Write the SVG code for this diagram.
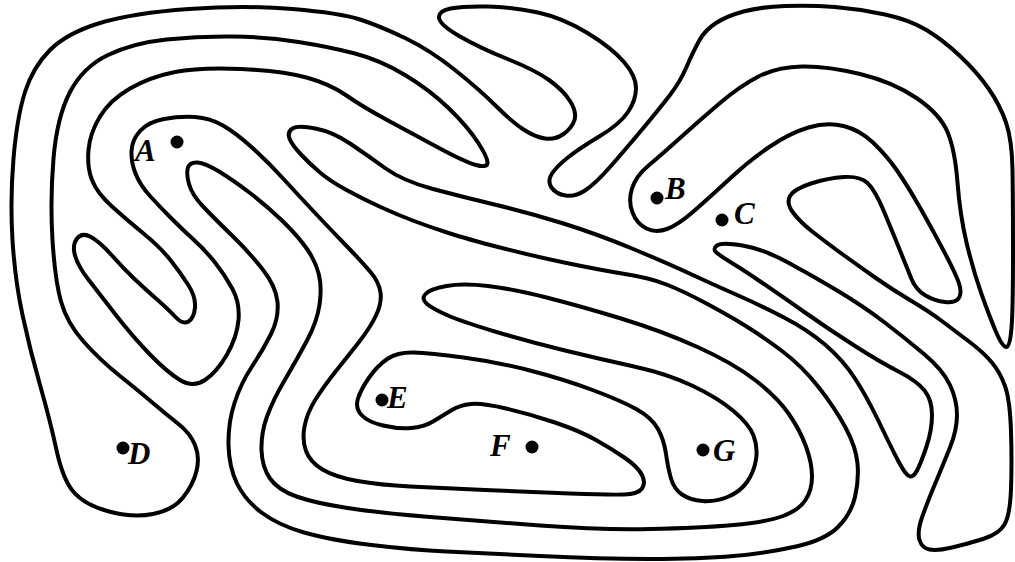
<svg xmlns="http://www.w3.org/2000/svg" width="1015" height="562" viewBox="0 0 1015 562">
<style>
.curve{fill:none;stroke:#000;stroke-width:4;stroke-linejoin:round;stroke-linecap:round}
.dot{fill:#000}
.lbl{font-family:"Liberation Serif","Times New Roman",serif;font-weight:bold;font-style:italic;font-size:31px;fill:#000}
</style>
<rect width="1015" height="562" fill="#fff"/>
<g id="connectors">
<path class="curve" d="M135.5,173.5 Q131,162 131.5,151 Q132,140 140,131 Q148,122 164,119 Q180,116 195,117 Q210,118 223,125.5 Q236,133 252,147.5 Q268,162 284,179.5 Q300,197 316.5,214.5 Q333,232 347.5,247 Q362,262 370.5,272 Q379,282 380.5,292.5 Q382,303 376,315.5 Q370,328 359,342 Q348,356 336,371 Q324,386 315.5,399.5 Q307,413 304.5,426.5 Q302,440 306,451 Q310,462 322.5,469.5 Q335,477 357.5,481 Q380,485 410,486.5 Q440,488 485,490 Q530,492 570,493.5 Q610,495 624,494.5 Q638,494 642,488.5 Q646,483 642,475 Q638,467 625,458 Q612,449 596,440 Q580,431 555,422.5 Q530,414 506,408.5 Q482,403 471,404 Q460,405 451,410.5 Q442,416 433,421.5 Q424,427 411,428 Q398,429 383,425.5 Q368,422 361.5,415 Q355,408 358,398.5 Q361,389 369.5,377 Q378,365 388,358.5 Q398,352 414,352.5 Q430,353 463.5,357.5 Q497,362 530,370.5 Q563,379 592.5,390 Q622,401 637,409.5 Q652,418 658,429 Q664,440 666,454 Q668,468 671,478.5 Q674,489 682,494.5 Q690,500 702.5,501 Q715,502 727.5,497 Q740,492 747,482 Q754,472 756,459.5 Q758,447 753.5,435.5 Q749,424 733.5,411 Q718,398 693,386 Q668,374 634,366.5 Q600,359 565,350.5 Q530,342 496.5,332 Q463,322 448,315.5 Q433,309 427,304 Q421,299 425.5,294 Q430,289 446.5,286 Q463,283 488,286 Q513,289 546.5,297.5 Q580,306 621,318.5 Q662,331 697.5,347 Q733,363 755,380 Q777,397 788.5,413.5 Q800,430 806,446.5 Q812,463 812,476.5 Q812,490 805.5,500 Q799,510 783,516 Q767,522 733.5,525 Q700,528 650,529 Q600,530 540,525.5 Q480,521 430,517 Q380,513 347.5,508 Q315,503 296.5,496.5 Q278,490 270,478.5 Q262,467 261.5,450 Q261,433 267,416.5 Q273,400 284.5,380.5 Q296,361 306.5,341.5 Q317,322 319.5,305 Q322,288 319,275 Q316,262 307,249 Q298,236 282.5,221 Q267,206 250,193 Q233,180 219,171.5 Q205,163 197.5,162.5 Q190,162 188,167.5 Q186,173 189,184 Q192,195 203.5,207 Q215,219 231.5,235 Q248,251 262,268.5 Q276,286 277.5,302 Q279,318 271,334 Q263,350 252,366.5 Q241,383 234.5,403 Q228,423 228.5,445 Q229,467 237,483.5 Q245,500 261.5,512.5 Q278,525 304,532.5 Q330,540 371.5,545 Q413,550 446.5,551.5 Q480,553 540,556 Q600,559 650,559 Q700,559 733.5,556 Q767,553 796,546.5 Q825,540 838,527 Q851,514 855,497 Q859,480 857.5,463.5 Q856,447 845.5,427.5 Q835,408 818.5,387 Q802,366 782,351 Q762,336 745,325.5 Q728,315 705.5,303 Q683,291 666.5,284.5 Q650,278 625,274 Q600,270 566.5,263 Q533,256 500,247.5 Q467,239 448.5,233 Q430,227 414,221 Q398,215 380.5,207 Q363,199 346.5,190 Q330,181 320,172.5 Q310,164 301,154.5 Q292,145 289.5,138.5 Q287,132 292.5,128.5 Q298,125 315.5,128.5 Q333,132 350,143.5 Q367,155 385,168 Q403,181 433,189 Q463,197 496.5,205 Q530,213 563.5,223.5 Q597,234 632,248.5 Q667,263 689.5,273.5 Q712,284 736,294.5 Q760,305 784,317.5 Q808,330 825.5,345 Q843,360 855,378.5 Q867,397 879,422 Q891,447 898,460.5 Q905,474 909,476 Q913,478 917,470.5 Q921,463 926.5,446.5 Q932,430 932,415 Q932,400 924.5,390.5 Q917,381 898.5,371.5 Q880,362 855,346 Q830,330 805,312.5 Q780,295 762.5,283 Q745,271 733.5,264 Q722,257 717,253 Q712,249 717,245.5 Q722,242 742.5,245.5 Q763,249 788,262.5 Q813,276 838,291 Q863,306 884,322 Q905,338 924,354 Q943,370 950,385 Q957,400 957,415 Q957,430 950,447.5 Q943,465 935,484 Q927,503 922,517.5 Q917,532 919.5,540 Q922,548 929.5,549.5 Q937,551 952,547.5 Q967,544 983,539 Q999,534 1004.5,524.5 Q1010,515 1011,489 Q1012,463 1011,431.5 Q1010,400 1005,386 Q1000,372 991.5,362 Q983,352 969,341.5 Q955,331 942.5,321.5 Q930,312 911.5,301 Q893,290 876.5,278.5 Q860,267 843.5,255 Q827,243 813.5,232.5 Q800,222 793,212.5 Q786,203 790,196 Q794,189 811,183.5 Q828,178 844,177 Q860,176 867.5,183 Q875,190 884,211.5 Q893,233 900,250.5 Q907,268 911.5,279 Q916,290 925.5,295.5 Q935,301 945,302 Q955,303 958.5,298.5 Q962,294 959.5,285 Q957,276 943.5,250.5 Q930,225 918.5,205 Q907,185 897,170.5 Q887,156 873.5,143 Q860,130 843.5,126 Q827,122 808.5,127.5 Q790,133 770,146.5 Q750,160 730,178.5 Q710,197 694,211 Q678,225 667,229 Q656,233 646.5,228.5 Q637,224 632.5,212.5 Q628,201 632,188.5 Q636,176 648,166 Q660,156 680,138 Q700,120 720,103 Q740,86 758.5,76.5 Q777,67 802,66.5 Q827,66 860,74 Q893,82 916.5,98 Q940,114 947.5,132 Q955,150 957.5,182.5 Q960,215 966.5,242.5 Q973,270 981.5,294 Q990,318 996.5,333 Q1003,348 1006.5,347 Q1010,346 1011.5,328 Q1013,310 1013,255 Q1013,200 1012.5,170 Q1012,140 1006,122.5 Q1000,105 988.5,88.5 Q977,72 960,56 Q943,40 926.5,30 Q910,20 885,14.5 Q860,9 835,7 Q810,5 785,6 Q760,7 743.5,11.5 Q727,16 716,23 Q705,30 699,41 Q693,52 686.5,67 Q680,82 670,95 Q660,108 642.5,129 Q625,150 610,167 Q595,184 585,190.5 Q575,197 565.5,195.5 Q556,194 551.5,187.5 Q547,181 552,173.5 Q557,166 568.5,157 Q580,148 600,136 Q620,124 628,112 Q636,100 636,88 Q636,76 624,62 Q612,48 587.5,33 Q563,18 538,12.5 Q513,7 488,6.5 Q463,6 450.5,8.5 Q438,11 439,18 Q440,25 460,36.5 Q480,48 507.5,59 Q535,70 549,80 Q563,90 570,101 Q577,112 574.5,120 Q572,128 563.5,134 Q555,140 545,138.5 Q535,137 523.5,129.5 Q512,122 496,106 Q480,90 455,70 Q430,50 405,38 Q380,26 360,19.5 Q340,13 292.5,9 Q245,5 189,9 Q133,13 100,23 Q67,33 50,50 Q33,67 25,92 Q17,117 13.5,158.5 Q10,200 12.5,240 Q15,280 22.5,315 Q30,350 40,385 Q50,420 56.5,450 Q63,480 74,492.5 Q85,505 109,511.5 Q133,518 153,514 Q173,510 183,497.5 Q193,485 196.5,471 Q200,457 195,445 Q190,433 178.5,424 Q167,415 153.5,403.5 Q140,392 120,376 Q100,360 83.5,341.5 Q67,323 61,301.5 Q55,280 52.5,240 Q50,200 53.5,158.5 Q57,117 70,92 Q83,67 108,55 Q133,43 166.5,39.5 Q200,36 233.5,36.5 Q267,37 298.5,42 Q330,47 355,53.5 Q380,60 405,75 Q430,90 449,108.5 Q468,127 478,142.5 Q488,158 487.5,163 Q487,168 476,165 Q465,162 439,148 Q413,134 388,120.5 Q363,107 346.5,95.5 Q330,84 306.5,77.5 Q283,71 241.5,69 Q200,67 175,72 Q150,77 130,88.5 Q110,100 100,116.5 Q90,133 88.5,150 Q87,167 92,180 Q97,193 112,206.5 Q127,220 143.5,233.5 Q160,247 170,259.5 Q180,272 188,284.5 Q196,297 195,307.5 Q194,318 188.5,321.5 Q183,325 175.5,317 Q168,309 156.5,299 Q145,289 134,278.5 Q123,268 111.5,255 Q100,242 91,237 Q82,232 77,238.5 Q72,245 75,255.5 Q78,266 88,279 Q98,292 115.5,314.5 Q133,337 150,354.5 Q167,372 180,380 Q193,388 205,380 Q217,372 227,354.5 Q237,337 238.5,320 Q240,303 232.5,289 Q225,275 215,262.5 Q205,250 194,240 Q183,230 171.5,218.5 Q160,207 150,196 Q140,185 135.5,173.5 Z"/>
</g>
<g id="point-A"><circle class="dot" cx="177" cy="142" r="6.5"/><text class="lbl" x="135" y="161">A</text></g>
<g id="point-B"><circle class="dot" cx="657" cy="198" r="6.5"/><text class="lbl" x="665" y="199">B</text></g>
<g id="point-C"><circle class="dot" cx="722" cy="220" r="6.5"/><text class="lbl" x="734" y="224">C</text></g>
<g id="point-D"><circle class="dot" cx="123" cy="448" r="6.5"/><text class="lbl" x="128" y="464">D</text></g>
<g id="point-E"><circle class="dot" cx="382" cy="400" r="6.5"/><text class="lbl" x="387" y="408">E</text></g>
<g id="point-F"><circle class="dot" cx="532" cy="447" r="6.5"/><text class="lbl" x="490" y="456">F</text></g>
<g id="point-G"><circle class="dot" cx="703" cy="450" r="6.5"/><text class="lbl" x="713" y="461">G</text></g>
</svg>
